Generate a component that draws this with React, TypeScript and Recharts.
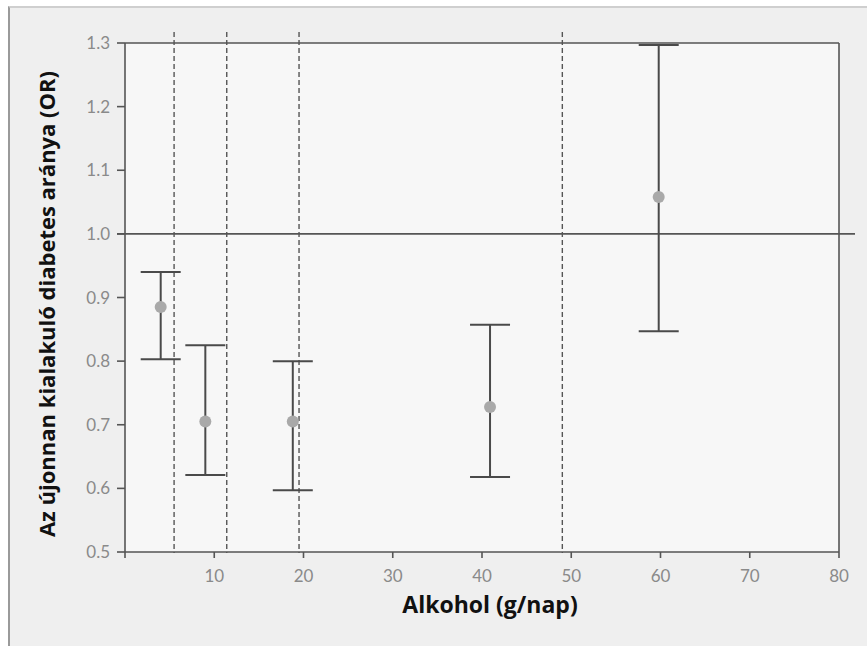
import React from 'react';
import {
  ScatterChart,
  Scatter,
  XAxis,
  YAxis,
  ErrorBar,
  ReferenceLine,
  CartesianGrid,
} from 'recharts';

const alcohol = [4.0, 9.0, 18.8, 40.9, 59.8];
const oddsRatio = [0.885, 0.705, 0.705, 0.728, 1.058];
const ciLow = [0.803, 0.621, 0.597, 0.618, 0.847];
const ciHigh = [0.94, 0.825, 0.8, 0.857, 1.297];
const categoryBounds = [5.5, 11.4, 19.5, 49.0];
const xTicks = [0, 10, 20, 30, 40, 50, 60, 70, 80];
const yTicks = [0.5, 0.6, 0.7, 0.8, 0.9, 1.0, 1.1, 1.2, 1.3];

const data = alcohol.map((x, i) => ({
  x,
  or: oddsRatio[i],
  err: [oddsRatio[i] - ciLow[i], ciHigh[i] - oddsRatio[i]],
}));

const AXIS = '#555555';
const TICK_FONT = 'Lato, "Open Sans", sans-serif';
const TITLE_FONT = '"Open Sans", "Noto Sans", sans-serif';

const Dot = (props: any) => (
  <circle cx={props.cx} cy={props.cy} r={6} fill="#a9a9a9" />
);

const OneLine = (props: any) => (
  <line
    x1={Math.min(props.x1, props.x2) - 8}
    y1={props.y1}
    x2={Math.max(props.x1, props.x2) + 16}
    y2={props.y2}
    stroke={AXIS}
    strokeWidth={1.6}
  />
);

const DashLine = (props: any) => (
  <line
    x1={props.x1}
    y1={Math.min(props.y1, props.y2) - 11}
    x2={props.x2}
    y2={Math.max(props.y1, props.y2) + 1}
    stroke="#555"
    strokeWidth={1.4}
    strokeDasharray="5 3"
  />
);

const YTitle = () => (
  <text
    x={46}
    y={304}
    transform="rotate(-90 46 304)"
    textAnchor="middle"
    dominantBaseline="central"
    fontFamily={TITLE_FONT}
    fontWeight={700}
    fontSize={22}
    fill="#111"
  >
    Az újonnan kialakuló diabetes aránya (OR)
  </text>
);

const XTitle = () => (
  <text
    x={490}
    y={604}
    textAnchor="middle"
    dominantBaseline="central"
    fontFamily={TITLE_FONT}
    fontWeight={700}
    fontSize={23}
    fill="#111"
  >
    Alkohol (g/nap)
  </text>
);

export default function App() {
  return (
    <div style={{ position: 'absolute', left: 0, top: 0, width: 867, height: 646, background: '#ffffff', overflow: 'hidden' }}>
      <div
        style={{
          position: 'absolute',
          left: 8,
          top: 6,
          width: 859,
          height: 640,
          background: '#efefef',
          borderTop: '2px solid #cfcfcf',
          borderLeft: '2px solid #9a9a9a',
        }}
      />
      <div style={{ position: 'absolute', left: 0, top: 0 }}>
        <ScatterChart width={867} height={646} margin={{ top: 43, right: 28, bottom: 0, left: 0 }}>
          <CartesianGrid horizontal={false} vertical={false} fill="#f7f7f7" />
          <XAxis
            type="number"
            dataKey="x"
            domain={[0, 80]}
            ticks={xTicks}
            allowDataOverflow
            height={94}
            tickSize={6}
            tickMargin={12}
            tickFormatter={(v: number) => (v === 0 ? '' : String(v))}
            stroke={AXIS}
            strokeWidth={1.6}
            tick={{ fill: '#8a8a8a', fontSize: 17, fontFamily: TICK_FONT }}
            label={<XTitle />}
          />
          <YAxis
            type="number"
            dataKey="or"
            domain={[0.5, 1.3]}
            ticks={yTicks}
            allowDataOverflow
            width={125}
            tickSize={8}
            tickMargin={7}
            tickFormatter={(v: number) => v.toFixed(1)}
            stroke={AXIS}
            strokeWidth={1.6}
            tick={{ fill: '#8a8a8a', fontSize: 17, fontFamily: TICK_FONT }}
            label={<YTitle />}
          />
          <ReferenceLine y={1.3} stroke={AXIS} strokeWidth={1.6} />
          <ReferenceLine x={80} stroke={AXIS} strokeWidth={1.6} />
          {categoryBounds.map((b) => (
            <ReferenceLine key={b} x={b} shape={DashLine} />
          ))}
          <ReferenceLine y={1.0} shape={OneLine} />
          <Scatter data={data} shape={Dot} isAnimationActive={false}>
            <ErrorBar
              dataKey="err"
              direction="y"
              width={20}
              stroke="#4a4a4a"
              strokeWidth={2}
              isAnimationActive={false}
            />
          </Scatter>
        </ScatterChart>
      </div>
    </div>
  );
}
